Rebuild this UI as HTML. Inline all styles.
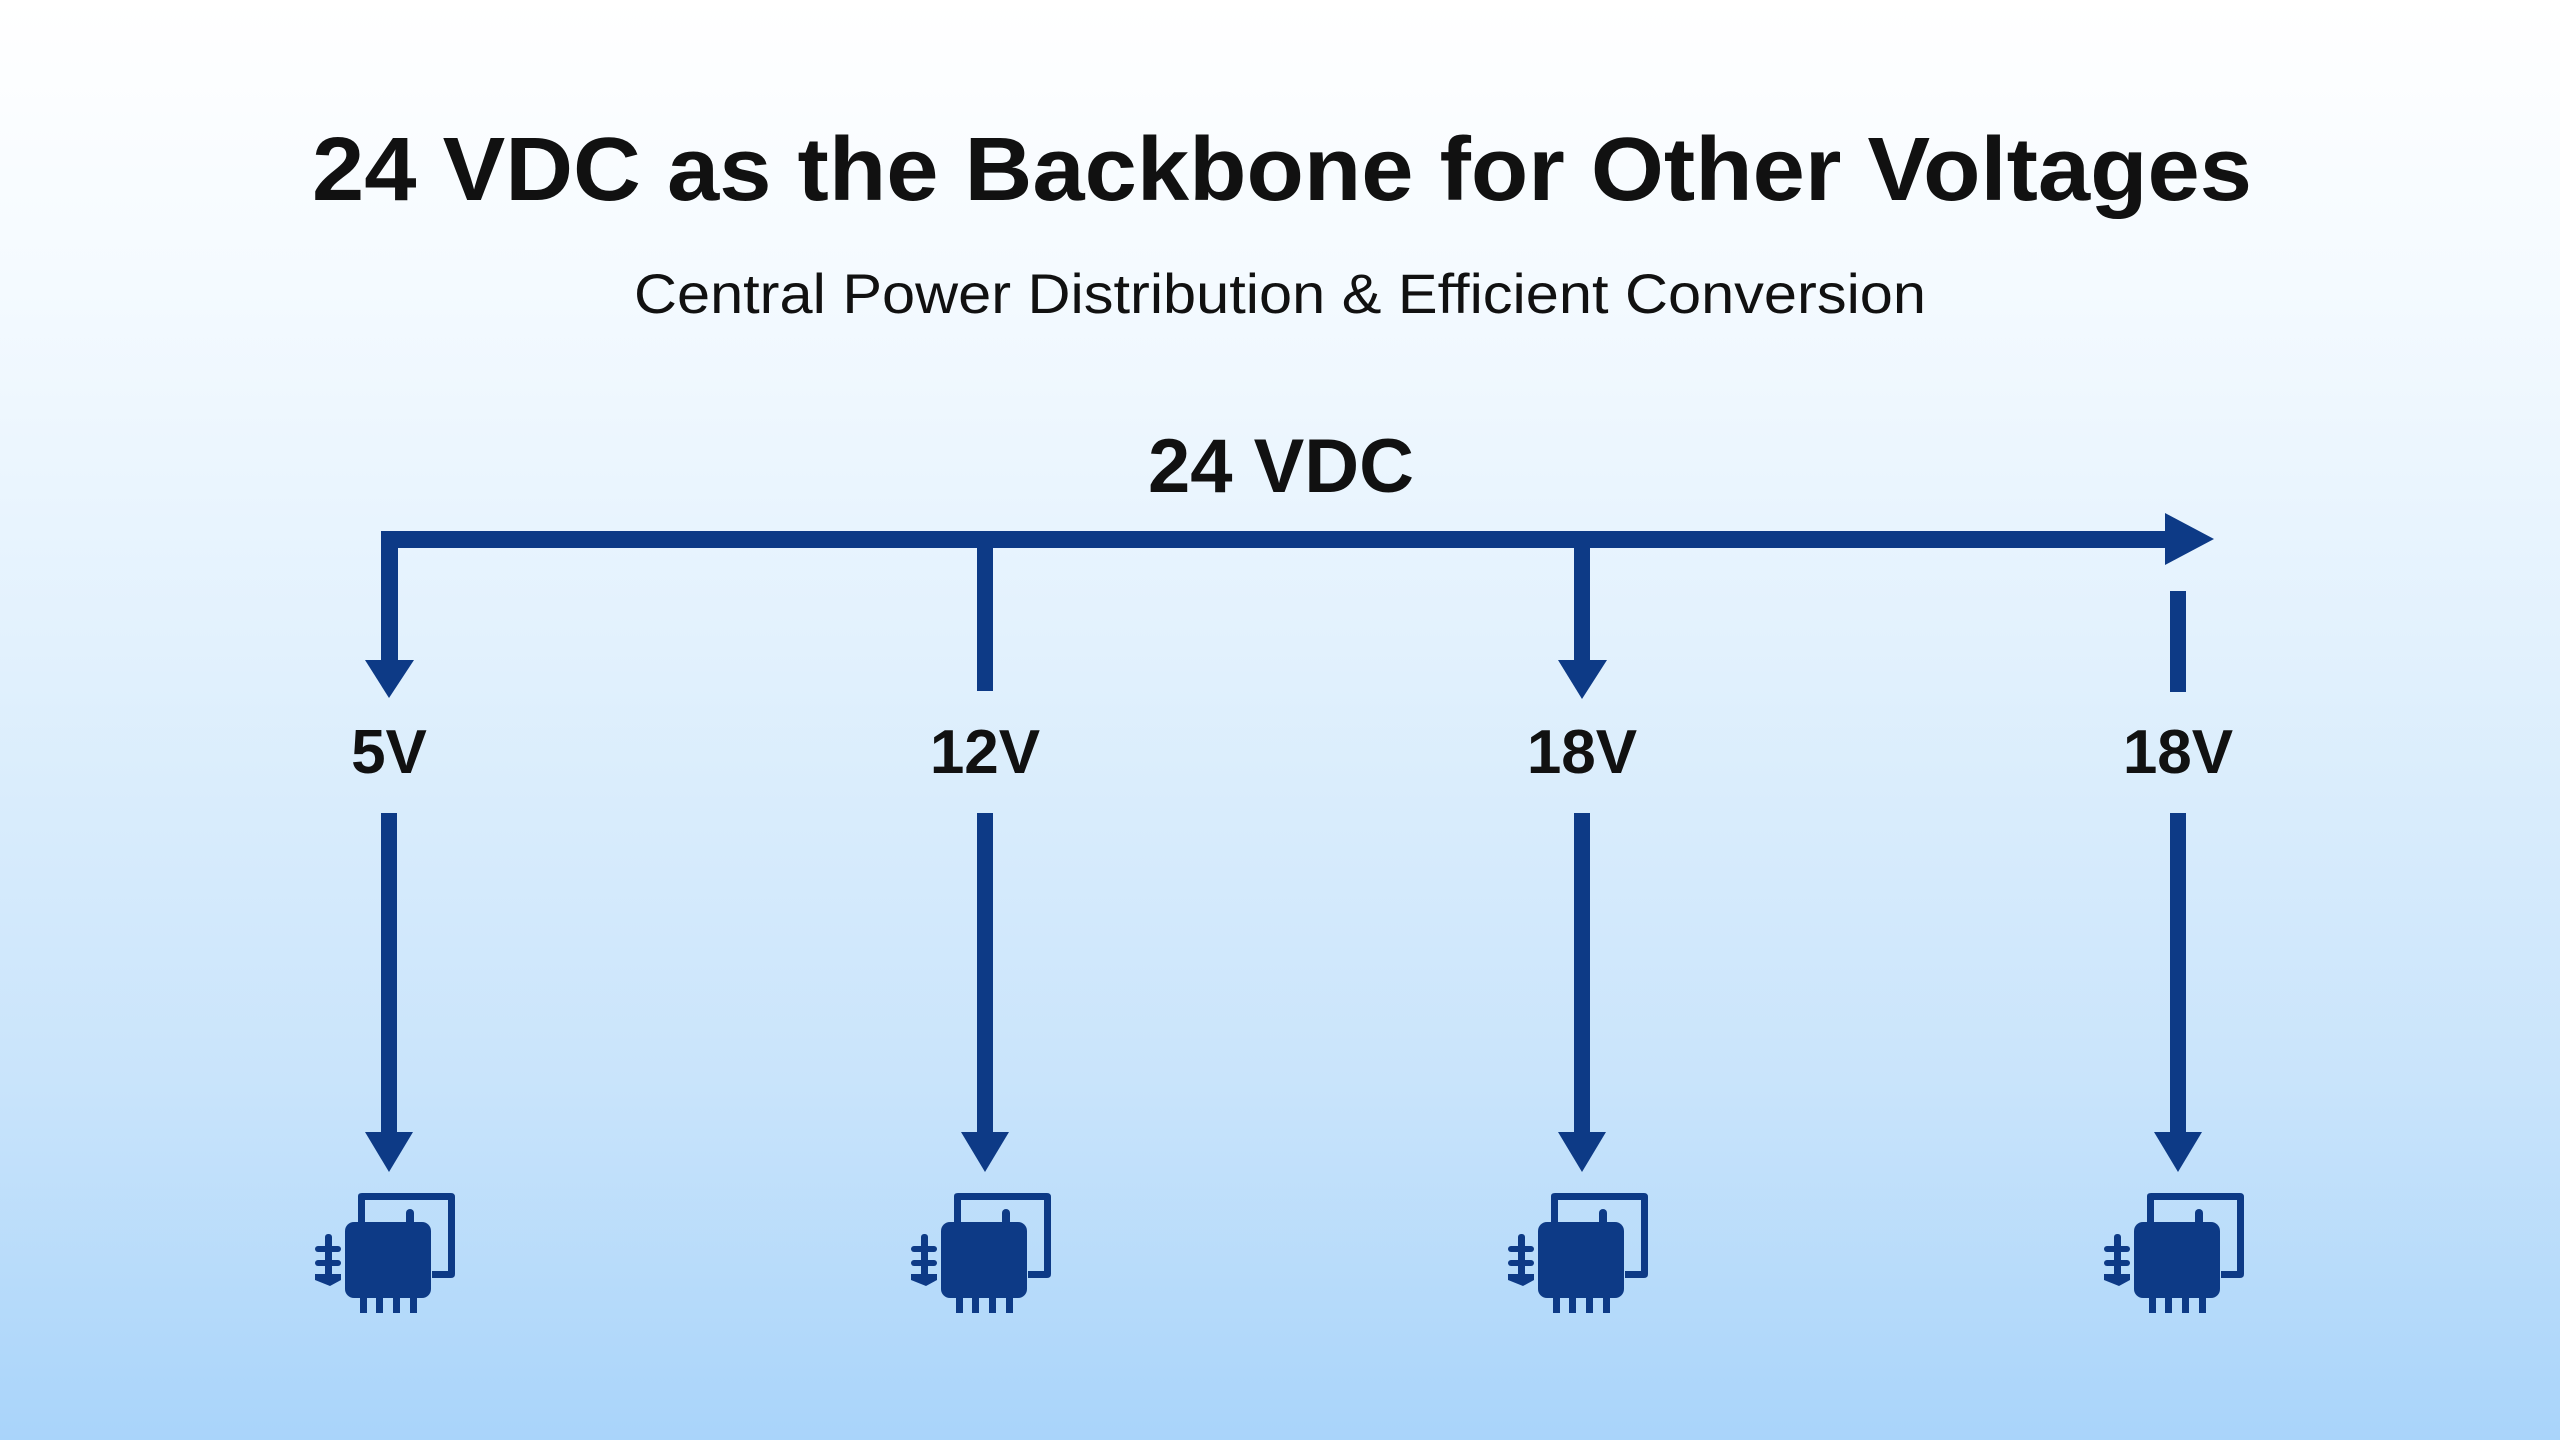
<!DOCTYPE html>
<html><head><meta charset="utf-8"><style>
html,body{margin:0;padding:0}
body{width:2560px;height:1440px;overflow:hidden;background:linear-gradient(180deg,#ffffff 0%,#f4faff 20%,#e2f1fd 45%,#c9e4fb 75%,#a9d4fa 100%);}
svg{position:absolute;left:0;top:0}
</style></head><body>
<svg width="2560" height="1440" viewBox="0 0 2560 1440">
<defs>
<g id="ic" fill="#0d3a86">
<path d="M358 1196 Q358 1193 362 1193 L451 1193 Q455 1193 455 1197 L455 1274 Q455 1278 451 1278 L432 1278 L432 1271 L448 1271 L448 1200 L365 1200 L365 1222 L358 1222 Z"/>
<rect x="345" y="1222" width="86" height="76" rx="9"/>
<rect x="406" y="1209" width="8" height="18" rx="4"/>
<rect x="360" y="1292" width="7" height="21"/><rect x="376" y="1292" width="7" height="21"/><rect x="393" y="1292" width="7" height="21"/><rect x="410" y="1292" width="7" height="21"/>
<rect x="325" y="1234" width="7" height="50" rx="3"/>
<rect x="315" y="1246" width="26" height="6" rx="3"/><rect x="315" y="1260" width="26" height="6" rx="3"/>
<path d="M315 1274 L341 1274 L341 1280 L330 1286 L315 1280 Z"/>
</g>
</defs>
<g font-family="Liberation Sans, sans-serif" text-anchor="middle">
<text x="1282" y="200" font-size="90" font-weight="bold" fill="#111" textLength="1940" lengthAdjust="spacingAndGlyphs">24 VDC as the Backbone for Other Voltages</text>
<text x="1280" y="313" font-size="56" fill="#111" textLength="1292" lengthAdjust="spacingAndGlyphs">Central Power Distribution &amp; Efficient Conversion</text>
<text x="1281" y="492" font-size="76" font-weight="bold" fill="#111" textLength="266" lengthAdjust="spacingAndGlyphs">24 VDC</text>
<g font-size="62" font-weight="bold" fill="#111">
<text x="389" y="773">5V</text><text x="985" y="773">12V</text><text x="1582" y="773">18V</text><text x="2178" y="773">18V</text>
</g>
</g>
<g fill="#0d3a86">
<rect x="381" y="531" width="1790" height="17"/>
<path d="M2165 513 L2214 539 L2165 565 Z"/>
<rect x="381" y="531" width="17" height="132"/>
<path d="M365 660 L414 660 L389 698 Z"/>
<rect x="977" y="540" width="16" height="151"/>
<rect x="1574" y="540" width="16" height="123"/>
<path d="M1558 660 L1607 660 L1582 699 Z"/>
<rect x="2170" y="591" width="16" height="101"/>
<rect x="381" y="813" width="16" height="322"/><path d="M365 1132 L413 1132 L389 1172 Z"/>
<rect x="977" y="813" width="16" height="322"/><path d="M961 1132 L1009 1132 L985 1172 Z"/>
<rect x="1574" y="813" width="16" height="322"/><path d="M1558 1132 L1606 1132 L1582 1172 Z"/>
<rect x="2170" y="813" width="16" height="322"/><path d="M2154 1132 L2202 1132 L2178 1172 Z"/>
</g>
<use href="#ic"/>
<use href="#ic" x="596"/>
<use href="#ic" x="1193"/>
<use href="#ic" x="1789"/>
</svg>
</body></html>
